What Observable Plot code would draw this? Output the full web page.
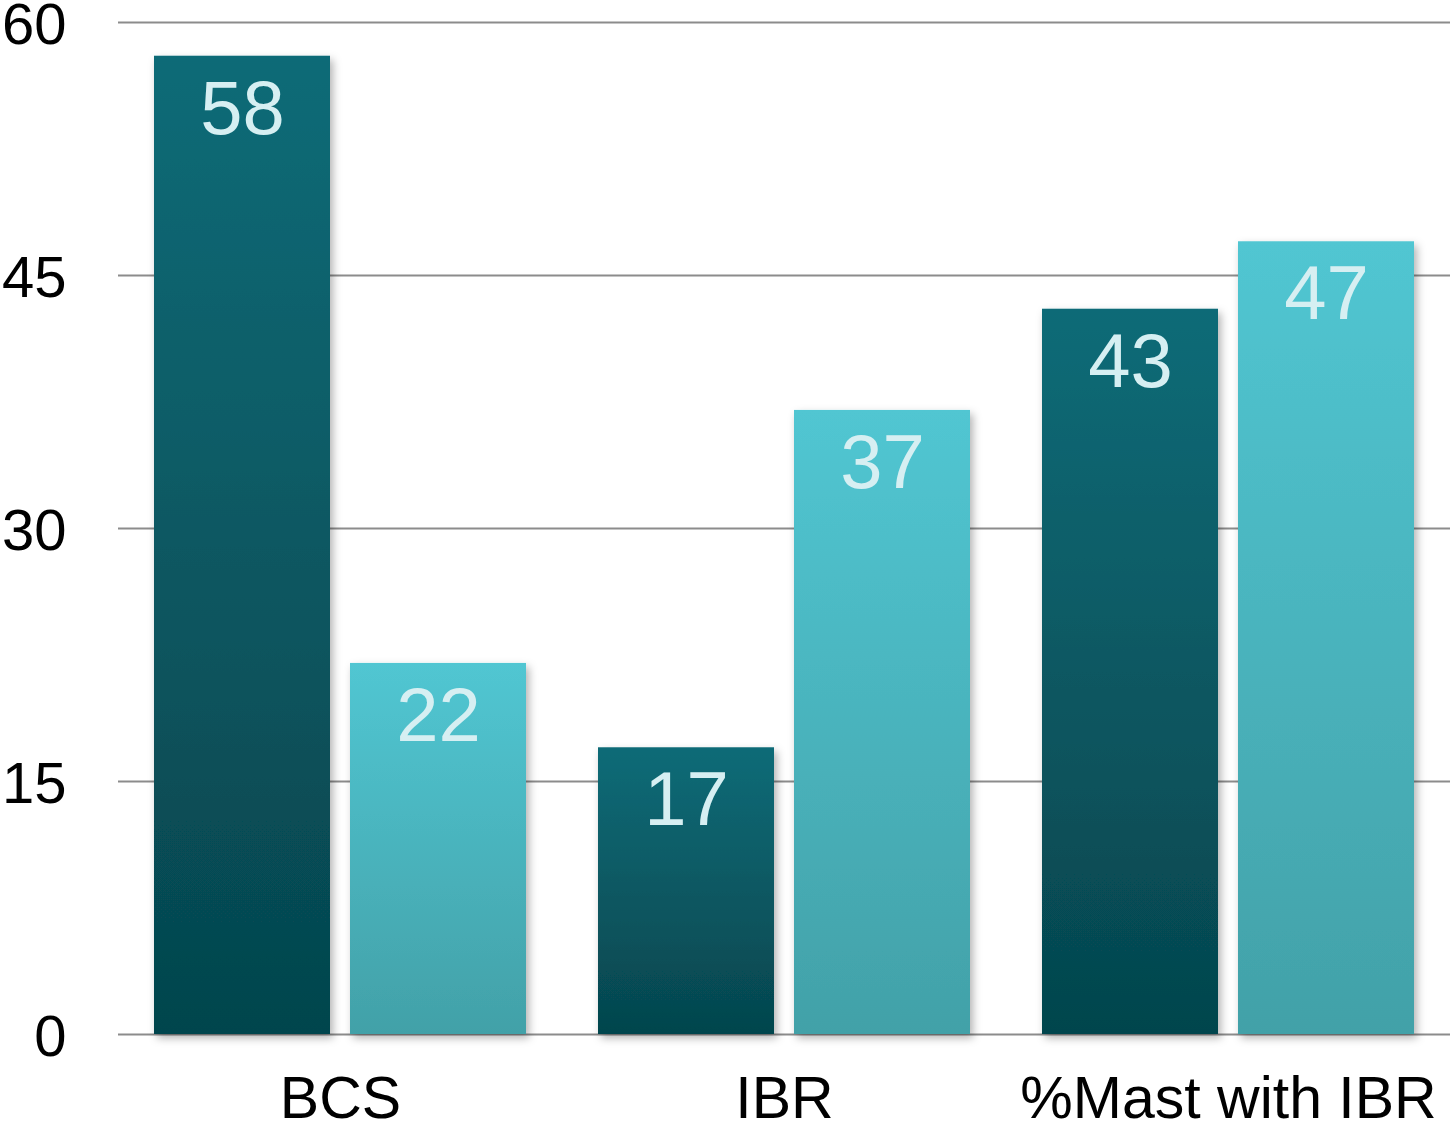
<!DOCTYPE html>
<html>
<head>
<meta charset="utf-8">
<script src="https://cdn.jsdelivr.net/npm/d3@7"></script>
<script src="https://cdn.jsdelivr.net/npm/@observablehq/plot@0.6"></script>
<style>
  html, body { margin: 0; padding: 0; background: #ffffff; }
  #chart svg { display: block; overflow: visible; }
</style>
</head>
<body>
<div id="chart"></div>
<script>
// Categories along the bottom, and the two series drawn side by side in each
const categories = ["BCS", "IBR", "%Mast with IBR"];
const seriesNames = ["Series 1", "Series 2"];
const series1 = [58, 17, 43];
const series2 = [22, 37, 47];
const yTicks = [0, 15, 30, 45, 60];

// Long table for Plot
const rows = categories.flatMap((c, i) => [
  {category: c, series: seriesNames[0], value: series1[i]},
  {category: c, series: seriesNames[1], value: series2[i]}
]);

const font = "'Liberation Sans', Helvetica, Arial, sans-serif";

const chart = Plot.plot({
  width: 1450,
  height: 1127,
  marginLeft: 118,
  marginRight: 0,
  marginTop: 22,
  marginBottom: 93,
  style: {fontFamily: font, background: "#ffffff", color: "#000", overflow: "visible"},
  fx: {domain: categories, padding: 0, label: null},
  x: {domain: seriesNames, paddingInner: 0.1, paddingOuter: 0.18, axis: null},
  y: {domain: [0, 60], label: null},
  marks: [
    Plot.ruleY(yTicks, {stroke: "#8c8c8c", strokeWidth: 2.2}),
    Plot.axisY(yTicks, {tickSize: 0, tickPadding: 52, fontSize: 58, dy: 3, fill: "#000", label: null}),
    Plot.axisFx({anchor: "bottom", tickSize: 0, tickPadding: 42, fontSize: 59, fill: "#000", label: null}),
    Plot.barY(rows.filter(d => d.series === seriesNames[0]), {
      fx: "category", x: "series", y: "value", fill: "url(#gradDark)"
    }),
    Plot.barY(rows.filter(d => d.series === seriesNames[1]), {
      fx: "category", x: "series", y: "value", fill: "url(#gradLight)"
    }),
    Plot.text(rows, {
      fx: "category", x: "series", y: "value", text: d => String(d.value),
      dy: 53, lineAnchor: "middle", fontSize: 76, fill: "#d6eff2"
    })
  ]
});

// Vertical gradients and soft shadow for the bars
const defs = d3.select(chart).insert("defs", ":first-child");
function gradient(id, top, bottom) {
  const g = defs.append("linearGradient").attr("id", id)
    .attr("x1", 0).attr("y1", 0).attr("x2", 0).attr("y2", 1);
  g.append("stop").attr("offset", "0%").attr("stop-color", top);
  g.append("stop").attr("offset", "100%").attr("stop-color", bottom);
}
gradient("gradDark", "#0e6b77", "#05454d");
gradient("gradLight", "#51c6d2", "#42a1a8");
defs.append("filter").attr("id", "barShadow")
  .attr("x", "-10%").attr("y", "-10%").attr("width", "130%").attr("height", "130%")
  .append("feDropShadow")
  .attr("dx", 3).attr("dy", 4).attr("stdDeviation", 4)
  .attr("flood-color", "#000").attr("flood-opacity", 0.3);
d3.select(chart).selectAll('g[aria-label="bar"]').attr("filter", "url(#barShadow)");

document.getElementById("chart").appendChild(chart);
</script>
</body>
</html>
